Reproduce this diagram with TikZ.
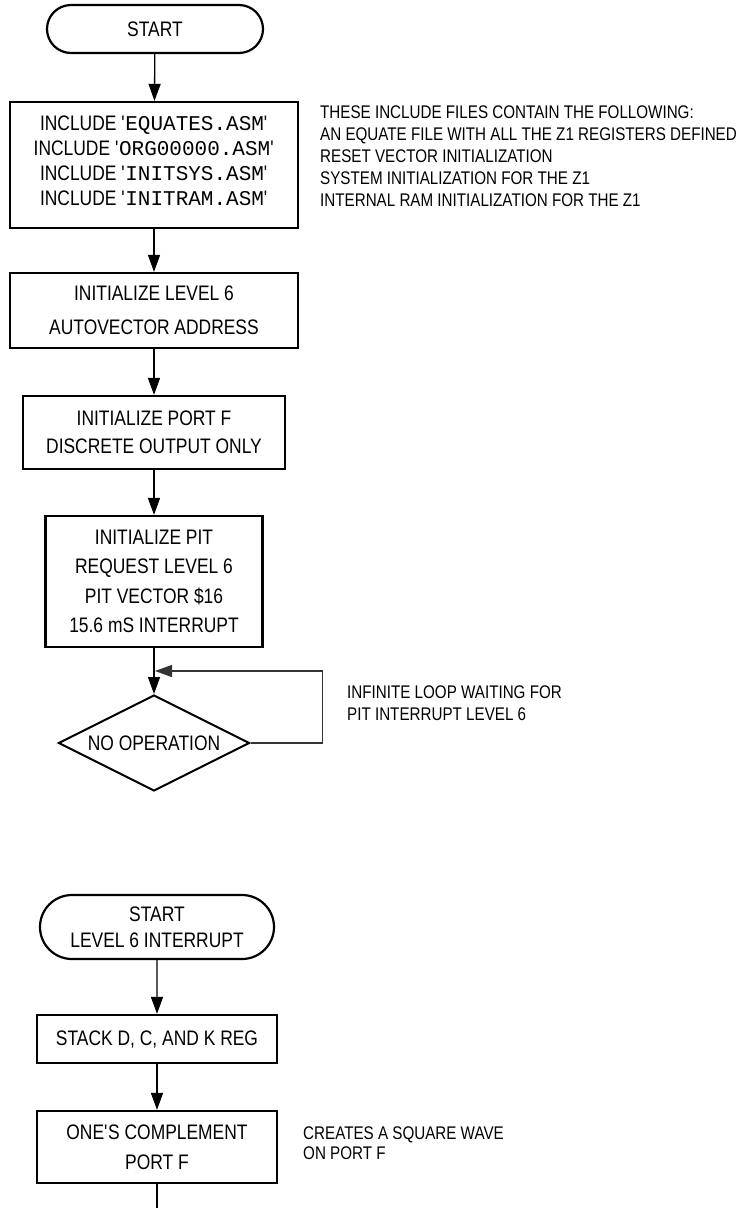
\documentclass[tikz,border=0pt]{standalone}
\usepackage{fontspec}
\setmainfont{Liberation Sans}[FakeStretch=0.83]
\newfontfamily\filefont{Liberation Mono}
\usetikzlibrary{arrows.meta,shapes.geometric,shapes.misc}

\newcommand{\incfile}[1]{INCLUDE \textquotesingle{\filefont\fontsize{21}{25}\selectfont #1}\textquotesingle}

\begin{document}
\begin{tikzpicture}[x=1pt, y=-1pt,
        procbox/.style={draw, line width=2.2pt, align=center, inner sep=0pt,
          font=\fontsize{21}{25}\selectfont},
        termbox/.style={procbox, rounded rectangle},
        decbox/.style={procbox, diamond, aspect=2, line width=2pt},
        note/.style={anchor=west, align=left, inner sep=0pt,
          font=\fontsize{18.3}{22}\selectfont},
        flow/.style={->, line width=1.3pt},
        >={Triangle[length=17pt,width=12pt]}]
  \useasboundingbox (0,0) rectangle (741,1208);
  % main program
  \node (start) at (155,29) [termbox, minimum width=216pt, minimum height=48pt] {START};
  \node (incl) at (154,165) [procbox, minimum width=288pt, minimum height=126pt, text depth=8pt]
    {\incfile{EQUATES.ASM}\\ \incfile{ORG00000.ASM}\\ \incfile{INITSYS.ASM}\\ \incfile{INITRAM.ASM}};
  \node (lvl) at (154,310.5) [procbox, minimum width=288pt, minimum height=75pt]
    {INITIALIZE LEVEL 6\\[9pt] AUTOVECTOR ADDRESS};
  \node (portf) at (154,432.5) [procbox, minimum width=262pt, minimum height=73pt]
    {INITIALIZE PORT F\\[3.5pt] DISCRETE OUTPUT ONLY};
  \node (pit) at (154,581.5) [procbox, minimum width=217pt, minimum height=131pt]
    {INITIALIZE PIT\\[4.5pt] REQUEST LEVEL 6\\[4.5pt] PIT VECTOR \$16\\[4.5pt] 15.6 mS INTERRUPT};
  \node (noop) at (154,743) [decbox, minimum width=191pt, minimum height=96pt] {NO OPERATION};
  \coordinate (loopin) at (155,671);
  \node (incnote) at (320,156) [note] {THESE INCLUDE FILES CONTAIN THE FOLLOWING:\\
    AN EQUATE FILE WITH ALL THE Z1 REGISTERS DEFINED\\ RESET VECTOR INITIALIZATION\\
    SYSTEM INITIALIZATION FOR THE Z1\\ INTERNAL RAM INITIALIZATION FOR THE Z1};
  \node (loopnote) at (347,703.5) [note] {INFINITE LOOP WAITING FOR\\ PIT INTERRUPT LEVEL 6};
  \draw[flow] (start) -- (incl);
  \draw[flow] (incl) -- (lvl);
  \draw[flow] (lvl) -- (portf);
  \draw[flow] (portf) -- (pit);
  \draw[flow] (pit) -- (noop);
  \draw[->, line width=1.2pt, draw=black!80] (noop.east) -- ++(72,0) |- (loopin);
  % level 6 interrupt
  \node (start2) at (157,927) [termbox, minimum width=234pt, minimum height=64pt]
    {START\\[1pt] LEVEL 6 INTERRUPT};
  \node (stack) at (157,1039) [procbox, minimum width=240pt, minimum height=48pt] {STACK D, C, AND K REG};
  \node (cpl) at (157,1147) [procbox, minimum width=240pt, minimum height=72pt]
    {ONE\textquotesingle S COMPLEMENT\\[5pt] PORT F};
  \coordinate (tail) at (157,1208);
  \node (cplnote) at (303,1143) [note] {CREATES A SQUARE WAVE\\[-1.5pt] ON PORT F};
  \draw[flow] (start2) -- (stack);
  \draw[flow] (stack) -- (cpl);
  \draw[line width=1.3pt] (cpl) -- (tail);
\end{tikzpicture}
\end{document}
